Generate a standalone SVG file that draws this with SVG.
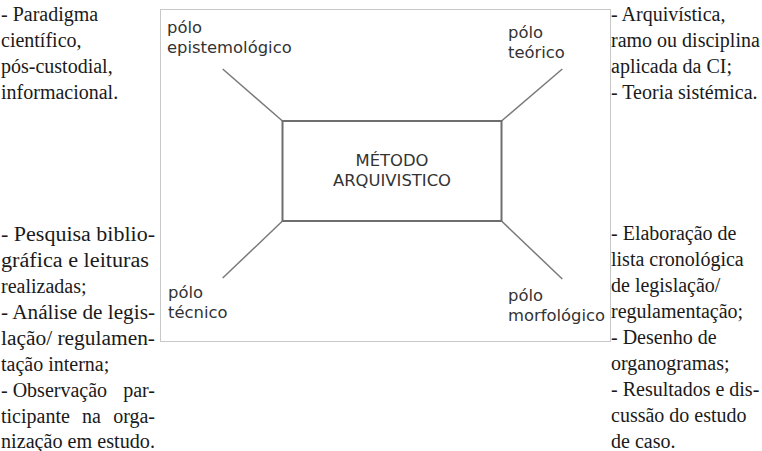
<svg xmlns="http://www.w3.org/2000/svg" width="762" height="451" viewBox="0 0 762 451">
<style>
.s{font-family:"DejaVu Sans","Liberation Sans",sans-serif;font-size:16.4px;fill:#333}
.t{font-family:"Liberation Serif","DejaVu Serif",serif;font-size:20px;fill:#1a1a1a}
.e{text-anchor:end}
.ln{stroke:#7a7a7a;stroke-width:1.5;fill:none}
</style>
<rect width="762" height="451" fill="#fff"/>
<g id="frame"><rect x="160.5" y="9.5" width="450" height="332" fill="none" stroke="#c8c8c8" stroke-width="1"/></g>
<g id="connectors">
<line class="ln" x1="222.7" y1="69" x2="282.5" y2="121"/>
<line class="ln" x1="562.3" y1="69" x2="501.5" y2="121"/>
<line class="ln" x1="222.7" y1="278" x2="282.5" y2="221"/>
<line class="ln" x1="562.3" y1="279" x2="501.5" y2="221"/>
</g>
<g id="metodo">
<rect x="282.5" y="121" width="219" height="100" fill="#fff" stroke="#6e6e6e" stroke-width="2"/>
<text class="s" x="392" y="166" text-anchor="middle">MÉTODO</text>
<text class="s" x="392" y="186" text-anchor="middle">ARQUIVISTICO</text>
</g>
<g id="polo-epistemologico">
<text class="s" x="167" y="33">pólo</text>
<text class="s" x="167" y="53">epistemológico</text>
</g>
<g id="polo-teorico">
<text class="s" x="508" y="38">pólo</text>
<text class="s" x="508" y="58">teórico</text>
</g>
<g id="polo-tecnico">
<text class="s" x="168" y="298">pólo</text>
<text class="s" x="168" y="318">técnico</text>
</g>
<g id="polo-morfologico">
<text class="s" x="508" y="301">pólo</text>
<text class="s" x="508" y="321">morfológico</text>
</g>
<g id="texto-epistemologico">
<text class="t" x="1" y="20.5">- Paradigma</text>
<text class="t" x="1" y="46.5">científico,</text>
<text class="t" x="1" y="72.5">pós-custodial,</text>
<text class="t" x="1" y="98.5">informacional.</text>
</g>
<g id="texto-teorico">
<text class="t" x="611" y="20.5">- Arquivística,</text>
<text class="t" x="611" y="46.5">ramo ou disciplina</text>
<text class="t" x="611" y="72.5">aplicada da CI;</text>
<text class="t" x="611" y="98.5">- Teoria sistémica.</text>
</g>
<g id="texto-tecnico">
<text class="t" x="1" y="241" textLength="154" lengthAdjust="spacingAndGlyphs">- Pesquisa biblio-</text>
<text class="t" x="1" y="267" textLength="148" lengthAdjust="spacingAndGlyphs">gráfica e leituras</text>
<text class="t" x="1" y="293">realizadas;</text>
<text class="t" x="1" y="319" textLength="154" lengthAdjust="spacingAndGlyphs">- Análise de legis-</text>
<text class="t" x="1" y="345" textLength="154" lengthAdjust="spacingAndGlyphs">lação/ regulamen-</text>
<text class="t" x="1" y="371">tação interna;</text>
<text class="t" x="1" y="397">- Observação</text>
<text class="t e" x="155" y="397">par-</text>
<text class="t" x="1" y="423">ticipante</text>
<text class="t" x="82" y="423">na</text>
<text class="t e" x="155" y="423">orga-</text>
<text class="t" x="1" y="447.5" textLength="154" lengthAdjust="spacingAndGlyphs">nização em estudo.</text>
</g>
<g id="texto-morfologico">
<text class="t" x="611" y="240">- Elaboração de</text>
<text class="t" x="611" y="266">lista cronológica</text>
<text class="t" x="611" y="292">de legislação/</text>
<text class="t" x="611" y="318">regulamentação;</text>
<text class="t" x="611" y="344">- Desenho de</text>
<text class="t" x="611" y="370">organogramas;</text>
<text class="t" x="611" y="396">- Resultados e dis-</text>
<text class="t" x="611" y="422">cussão do estudo</text>
<text class="t" x="611" y="447.5">de caso.</text>
</g>
</svg>
